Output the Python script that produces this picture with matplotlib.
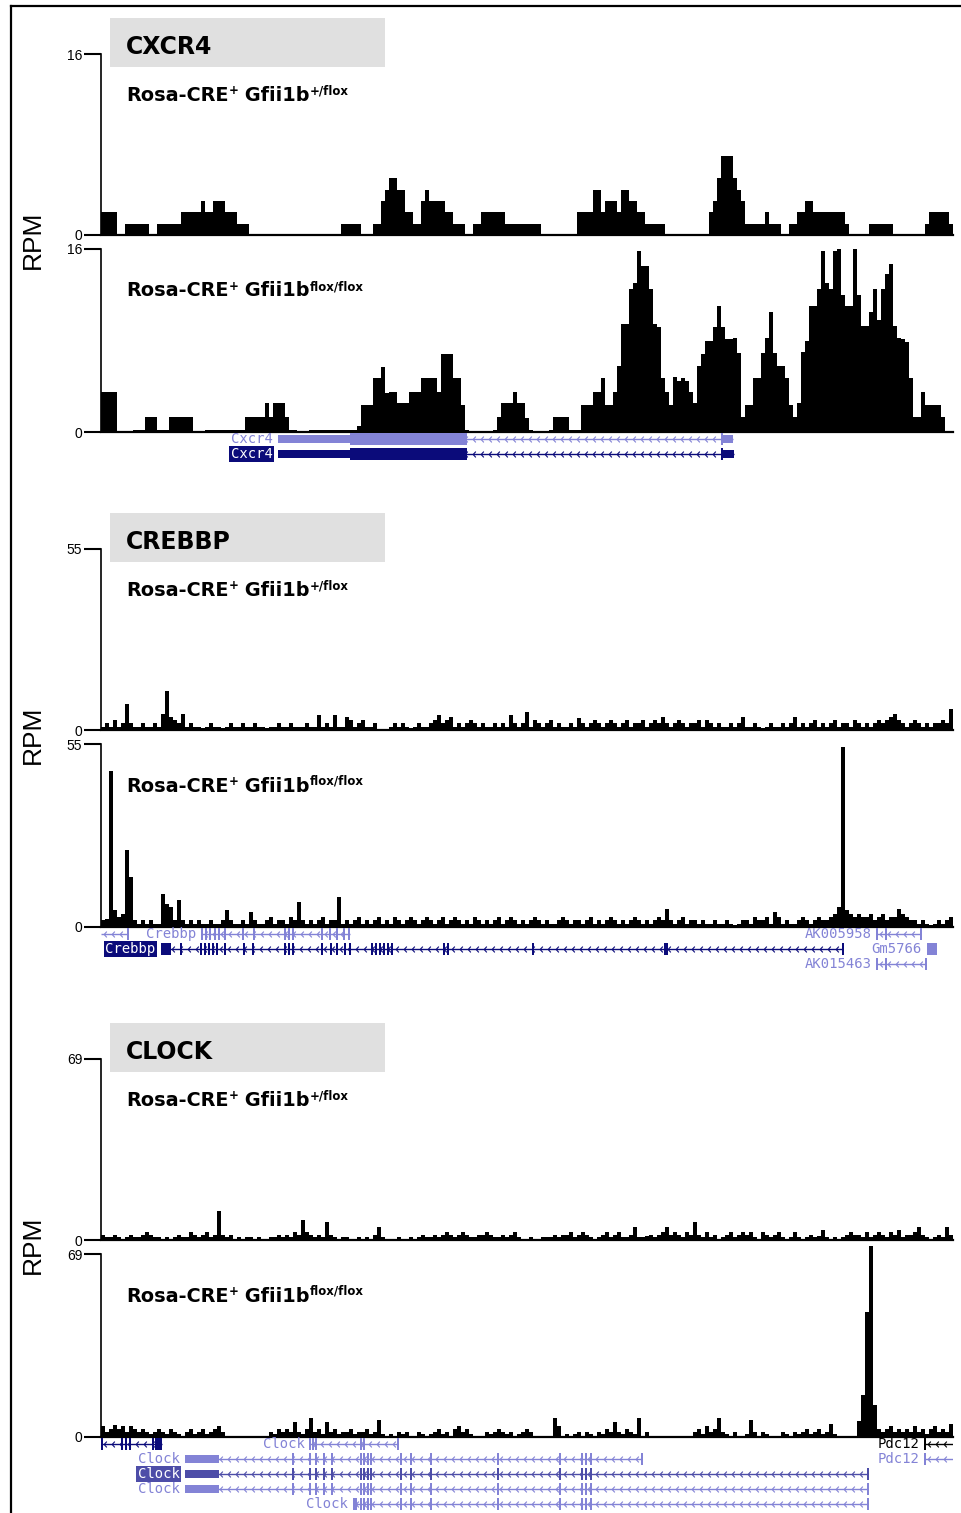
import numpy as np
import matplotlib
matplotlib.use("Agg")
import matplotlib.pyplot as plt
from matplotlib.patches import Rectangle
from matplotlib.path import Path
from matplotlib.lines import Line2D

# ---------------- DATA ----------------
# signal values (RPM) in equal genomic bins across each locus window
cxcr4_het = [2,2,2,2, 0,0, 1,1,1,1,1,1, 0,0, 1,1,1,1,1,1, 2,2,2,2,2, 3, 2,2, 3,3,3, 2,2,2, 1,1,1,
             0,0,0,0,0,0,0,0,0,0,0,0,0,0,0,0,0,0,0,0,0,0,0,
             1,1,1,1,1, 0,0,0, 1,1, 3, 4, 5,5, 4,4, 2,2, 1,1, 3, 4, 3,3,3,3, 2,2, 1,1,1, 0,0, 1,1,
             2,2,2,2,2,2, 1,1,1,1,1,1,1,1,1, 0,0,0,0,0,0,0,0,0, 2,2,2,2, 4,4, 2, 3,3,3, 2, 4,4, 3,3, 2,2,
             1,1,1,1,1, 0,0,0,0,0,0,0,0,0,0,0, 2, 3, 5, 7,7,7, 5, 4, 3, 1,1,1,1,1,2,1,1,1, 0,0, 1,1, 2,2,
             3,3, 2,2,2,2,2,2,2,2, 1, 0,0,0,0,0, 1,1,1,1,1,1, 0,0,0,0,0,0,0,0, 1, 2,2,2,2,2, 1]

cxcr4_ko = [3.5,3.5,3.5,3.5, 0,0,0,0, .15,.15,.15, 1.3,1.3,1.3, .15,.15,.15, 1.3,1.3,1.3,1.3,1.3,1.3,
            0,0,0, .15,.15,.15,.15,.15,.15,.15,.15,.15,.15, 1.3,1.3,1.3,1.3,1.3, 2.5, 1.3, 2.5,2.5,2.5,
            1.3, .15,.15, 0,0,0, .15,.15,.15,.15,.15,.15,.15,.15,.15,.15,.15,.15, .5, 2.4,2.4,2.4,
            4.7,4.7,5.7, 3.4, 3.5,3.5, 2.5,2.5,2.5, 3.5,3.5,3.5, 4.7,4.7,4.7,4.7, 3.5, 6.8,6.8,6.8,
            4.7,4.7, 2.4, .15, 0,0,0,0,0,0, .15, 1.3, 2.5,2.5,2.5, 3.5, 2.5,2.5, 1.2, .15, 0,0,0,0,
            .15, 1.3,1.3,1.3,1.3, .15,.15,.15, 2.4,2.4,2.4, 3.5,3.5, 4.7, 2.4,2.4, 3.5, 5.8, 9.4,9.4,
            12.5, 13, 15.8, 14.5,14.5, 12.5, 9.4, 9.2, 4.7, 3.5, 2.4, 4.8, 4.5,4.7,4.5, 3.5, 2.5, 5.8,
            6.8, 8,8, 9.2, 11, 9.2, 8.1,8.1,8.2, 6.9, 1.3, 2.4,2.4, 4.7,4.7, 6.9, 8.2, 10.5, 6.9,
            5.8,5.8, 4.7, 2.4, 1.3, 2.5, 7,8, 11,11, 12.5, 15.8, 13, 12.5, 15.8,16, 12, 11,11, 16, 12,
            9.3,9.3, 10.5, 12.5, 9.8, 12.5, 13.8,14.7, 9.3, 8.2,8.1,7.9, 4.7, 1.3,1.3, 3.5,
            2.4,2.4,2.4,2.4, 1.3, 0,0]

crebbp_het = [1,2,1,3, 1,2,8, 2,1,1,2,1,1,2,1, 5,12,4,3,2,5,
              1,2,1,1,0.5,1,2,1,1,0.5,
              1,2,1,1,2,1,1,2,1,1,
              0.5,1,1,2,1,1,2,1,1,1,
              2,1,1,4.5,1,2,1,4.5,1,1,
              4,3,1,2,3,1,1,2,0.3,0,
              0,1,2,1,2,1,0.5,1,2,1,
              1,2,3,4.5,2,3,4,1,2,1,
              2,3,2,1,2,1,1,2,1,2,
              1,4.5,2,1,2,5.5,1,3,2,1,
              2,3,1,2,1,1,2,1,3.5,2,
              1,2,3,2,1,2,3,2,1,2,
              3,1,2,2,3,1,2,3,2,4,
              2,1,2,3,2,1,2,2,3,1,
              3,2,1,2,1,1,2,1,2,4,
              1,1,2,1,0.5,1,2,1,1,2,
              1,2,4,1,2,1,2,3,1,2,
              1,2,3,1,2,2,1,3,2,1,
              2,1,2,3,2,3,4,5,3,2,
              1,2,3,2,1,2,1,2,2,3,2,6.5]

crebbp_ko = [2,2.5,47,5, 3,4,23,15,2, 1,2,1,2,1,1, 10,7,6,2,8,2,
             1,2,1,2,1,1,2,1,1,2,
             5,2,1,1,2,1,4.5,2,1,1,
             2,3,1,2,2,1,3,2,7.5,2,
             1,2,1,2,3,1,2,2,9,1,
             2,1,2,3,1,2,1,2,3,1,
             2,1,3,2,1,2,3,2,1,2,
             3,2,1,2,3,1,2,3,2,1,
             2,1,3,2,1,2,1,2,3,1,
             2,3,2,1,2,1,2,3,2,1,
             2,1,1,2,3,2,1,2,2,1,
             2,3,1,2,1,2,3,2,1,2,
             1,2,3,2,1,2,1,2,3,2,
             5.5,2,1,2,3,1,2,2,1,2,
             1,1,2,1,1,2,1,0.5,1,2,
             2,1,3,2,2,3,1,4.5,3,1,
             2,1,1,2,3,2,1,2,3,2,
             2,3,4,6,54,5,4,3,4,3,
             3,4,2,3,4,2,3,3,5.5,4,
             3,2,2,1,2,1,0.5,1,2,1,2,3]

clock_het = [2,1,1,2,1,0.5,1,2,1,1,
             2,3,2,1,1,0.5,1,0,1,2,
             1,1,3,2,1,2,3,1,2,11,2,
             1,2,0.3,1,0,1,1,0.5,1,0,
             0.5,1,1,2,1,2,1,3,2,7.5,
             3,2,1,2,1,7,2,1,0.5,1,
             1,0,0.5,1,0,1,0.3,2,5,1,
             0,0.5,0,1,0,0.5,1,0,1,2,
             1,1,2,1,2,3,2,1,2,3,
             2,1,1,2,2,3,2,1,1,2,
             1,2,3,1,0.5,0,1,0.5,0,1,
             1,1,2,1,2,2,3,1,2,3,
             2,1,0.3,1,2,3,1,2,3,1,
             1,2,5,1,1,1.5,2,1,2,3,
             5,2,3,2,1,3,2,7,2,1,
             3,1,2,0.5,1,2,3,1,2,3,
             2,3,1,0.5,3,2,1,2,3,1,
             0.5,1,3,1,0.5,1,2,1,1.5,4,
             1,0.5,1,0.5,1,2,3,2,2,1,
             3,1,2,3,2,1,3,2,4,1,
             2,2,3,5,2,1,0.5,1,2,1,5,2]

clock_ko = [4,2,3,4.5,3,4,2,4,3,2,
            3,2,1,2,3,2,1,3,2,1,
            0.5,2,3,1,2,3,1,2,3,4,2,
            0,0,0.3,0,0.3,0,0,0.3,0,0,
            0.3,2,1,3,2,3,2,5.7,2,1,
            3,7.2,2,3,1,5.7,2,3,1,2,
            2,3,1,2,2,3,1,2,6.3,1,
            0.3,1,0.3,2,1,2,0.3,0,2,1,
            0.3,1,2,3,1,2,0.3,3,4,2,
            3,1,0.3,0,0.3,2,1,2,3,2,
            1,2,0.3,1,2,3,2,0.3,0,0,
            0.3,0,7,4,0.3,1,0.3,1,2,0.3,
            2,1,0.3,2,1,3,2,5.7,2,1,
            3,2,1,7,0.3,2,0.3,0,0,0,
            0,0,0,0,0,0,0,2,3,1,
            4,2,3,7,2,1,0.3,2,0.3,0.3,
            1,6.3,2,0.3,2,1,0.3,0.3,0,2,
            1,0.3,2,1,2,3,1,2,3,1,
            2,5,1,0.3,0.3,0.3,0.3,0.3,6,16,
            47,72,12,3,2,3,4,2,3,2,
            3,2,4,2,3,1,3,4,2,3,2,5]

track_max = {"CXCR4": 16, "CREBBP": 55, "CLOCK": 69}
genotype_het = ("+", "+/flox")
genotype_ko = ("+", "flox/flox")

# gene models (in the same bin coordinates as the signal)
clock_exons = [48, 52.25, 53.75, 55.75, 57.75, 65, 65.75, 66.75, 67.5, 75, 77.5, 82.5,
               99.25, 114.75, 120.25, 121.25, 122.5]
cxcr4_genes = [
    dict(row=0, span=(44.25, 158), utr=[(44.25, 62.25), (155.25, 158)], cds=[(62.25, 91.5)],
         ticks=[155.25], label="Cxcr4", col="light", hl=False),
    dict(row=1, span=(44.25, 158.25), utr=[(44.25, 62.25), (155.25, 158.25)], cds=[(62.25, 91.5)],
         ticks=[155.25], label="Cxcr4", col="navy", hl=True),
]
crebbp_genes = [
    dict(row=0, span=(0, 6.75), ticks=[6.75], label="", col="light"),
    dict(row=0, span=(25.25, 62.25), ticks=[25.25, 26.25, 27.25, 28.5, 29.5, 31, 35.5, 38.25, 46, 47,
                                          48, 55.25, 57.25, 59, 60.75, 62], label="Crebbp", col="light"),
    dict(row=0, span=(194, 205), ticks=[194, 196.25, 205], label="AK005958", col="light"),
    dict(row=1, span=(15, 185.5), cds=[(15, 17.5), (140.75, 141.75)],
         ticks=[20, 25, 26, 27, 28, 29, 31, 35.75, 38, 46, 47, 48, 55.25, 57.5, 59, 61, 62.25, 67.75,
                68.75, 69.75, 70.75, 71.75, 72.75, 85.75, 86.75, 108, 185.5],
         label="Crebbp", col="navy", hl=True),
    dict(row=1, span=(206.5, 209), cds=[(206.5, 209)], label="Gm5766", col="light", line=False),
    dict(row=2, span=(194, 206.25), ticks=[194, 196.25, 206.25], label="AK015463", col="light"),
]
clock_genes = [
    dict(row=0, span=(0, 15.25), cds=[(13.5, 15.25)], ticks=[0.25, 5.25, 6.25, 7.25, 13], label="", col="navy"),
    dict(row=0, span=(52.25, 74.25), ticks=[52.25, 53, 53.75, 65, 65.75, 74.25], label="Clock", col="light"),
    dict(row=0, span=(206, 213), ticks=[206], label="Pdc12", col="black"),
    dict(row=1, span=(21, 135.25), utr=[(21, 29.5)], ticks=clock_exons + [135.25], label="Clock", col="light"),
    dict(row=1, span=(206, 213), ticks=[206], label="Pdc12", col="light"),
    dict(row=2, span=(21, 191.75), utr=[(21, 29.5)], ticks=clock_exons + [191.75], label="Clock", col="mid", hl=True),
    dict(row=3, span=(21, 191.75), utr=[(21, 29.5)], ticks=clock_exons + [191.75], label="Clock", col="light"),
    dict(row=4, span=(63, 191.75), cds=[(63, 64)], ticks=clock_exons[5:] + [191.75], label="Clock", col="light"),
]

# ---------------- STYLE / LAYOUT ----------------
COL = {"light": "#8383d6", "navy": "#0b0b7a", "mid": "#4d4da8", "black": "#000000"}
W, H = 961, 1513
fig = plt.figure(figsize=(W / 100, H / 100), dpi=100)
fig.patch.set_facecolor("white")
renderer = fig.canvas.get_renderer()

TITLE_FONT = "DejaVu Sans"
NUM_FONT = ["Liberation Sans", "DejaVu Sans"]


def fx(x):
    return x / W


def fy(y):
    return 1 - y / H


def px_axes(x0, y0, x1, y1):
    ax = fig.add_axes([fx(x0), fy(y1), (x1 - x0) / W, (y1 - y0) / H])
    ax.patch.set_alpha(0)
    return ax


def draw_track(y_top, y_bot, vals, ymax):
    ax = px_axes(101, y_top, 953, y_bot)
    n = len(vals)
    ax.stairs(vals, np.arange(n + 1), fill=True, color="black", linewidth=0, clip_on=False)
    ax.set_xlim(0, n)
    ax.set_ylim(0, ymax)
    ax.spines["top"].set_visible(False)
    ax.spines["right"].set_visible(False)
    ax.spines["left"].set_linewidth(1.2)
    ax.spines["bottom"].set_linewidth(1.6)
    ax.set_xticks([])
    ax.set_yticks([0, ymax])
    ax.set_yticklabels(["0", str(ymax)], fontfamily=NUM_FONT, fontsize=10)
    ax.tick_params(axis="y", length=12, width=1.5, pad=1.5)
    return ax


chev = Path([(0.45, 1.0), (-0.45, 0.0), (0.45, -1.0)], [Path.MOVETO, Path.LINETO, Path.LINETO])


def draw_gene(ax, g):
    r = g["row"]
    c = COL[g["col"]]
    s, e = g["span"]
    if g.get("line", True):
        ax.plot([s, e], [r, r], color=c, lw=1.0, solid_capstyle="butt")
        xs = np.arange(s + 1.0, e - 0.4, 2.0)
        ax.plot(xs, np.full(len(xs), r), ls="none", marker=chev, ms=4.2, mec=c, mfc="none", mew=0.8)
    for a, b in g.get("utr", []):
        ax.add_patch(Rectangle((a, r - 0.27), b - a, 0.54, fc=c, ec="none"))
    for a, b in g.get("cds", []):
        ax.add_patch(Rectangle((a, r - 0.43), b - a, 0.86, fc=c, ec="none"))
    for t in g.get("ticks", []):
        ax.add_patch(Rectangle((t - 0.19, r - 0.43), 0.38, 0.86, fc=c, ec="none"))
    if g.get("label"):
        if g.get("hl"):
            kw = dict(color="white", bbox=dict(fc=c, ec="none", pad=0.8))
        else:
            kw = dict(color=c)
        ax.text(s - 1.4, r, g["label"], ha="right", va="center", family="DejaVu Sans Mono",
                fontsize=10, **kw)


def rich(x_px, y_base, pieces):
    x = x_px
    for txt, size, dy in pieces:
        t = fig.text(fx(x), fy(y_base - dy), txt, fontsize=size, fontweight="bold",
                     family=TITLE_FONT, ha="left", va="baseline")
        x += t.get_window_extent(renderer=renderer).width


def subtitle(x_px, y_base, geno):
    rich(x_px, y_base, [("Rosa-CRE", 13.9, 0), (geno[0], 8.5, 6.5),
                        (" Gfii1b", 13.9, 0), (geno[1], 8.5, 6.5)])


loci = [
    ("CXCR4", 0, cxcr4_het, cxcr4_ko, cxcr4_genes, 2),
    ("CREBBP", 495, crebbp_het, crebbp_ko, crebbp_genes, 3),
    ("CLOCK", 1005, clock_het, clock_ko, clock_genes, 5),
]

for name, off, het, ko, genes, nrows in loci:
    ymax = track_max[name]
    # title box
    fig.add_artist(Rectangle((fx(110), fy(67 + off)), (385 - 110) / W, 49 / H,
                             transform=fig.transFigure, fc="#e0e0e0", ec="none", zorder=1))
    fig.text(fx(126), fy(54 + off), name, fontsize=17, fontweight="bold", family=TITLE_FONT,
             ha="left", va="baseline", zorder=3)
    draw_track(54 + off, 235 + off, het, ymax)
    draw_track(249 + off, 432 + off, ko, ymax)
    subtitle(126, 100.7 + off, genotype_het)
    subtitle(126, 296.5 + off, genotype_ko)
    fig.text(fx(33), fy(240 + off), "RPM", rotation=90, fontsize=19, family=NUM_FONT,
             ha="center", va="center")
    # gene annotation
    r0 = 439 + off
    gax = px_axes(101, r0 - 7.5, 953, r0 + 15 * (nrows - 1) + 7.5)
    gax.set_xlim(0, len(ko))
    gax.set_ylim(nrows - 0.5, -0.5)
    gax.axis("off")
    for g in genes:
        draw_gene(gax, g)

# outer frame (top and left edges)
fig.add_artist(Line2D([fx(11), fx(961)], [fy(6), fy(6)], color="black", lw=1.6))
fig.add_artist(Line2D([fx(11), fx(11)], [fy(6), fy(1513)], color="black", lw=1.6))

fig.savefig("out.png", dpi=100, facecolor="white")
